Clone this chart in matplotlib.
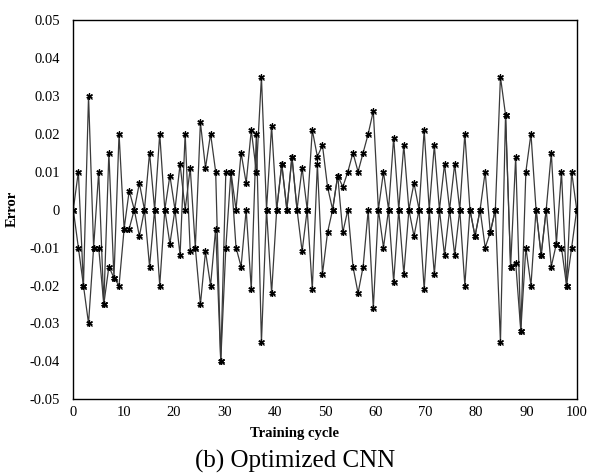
import numpy as np
import matplotlib.pyplot as plt

plt.rcParams['font.family'] = ['Liberation Serif', 'DejaVu Serif']

# error values, two traces per training cycle
err_a = [0, 0.010, -0.020, 0.030, -0.010, 0.010, -0.025, 0.015, -0.018, 0.020,
         -0.005, 0.005, 0, 0.007, 0, 0.015, 0, 0.020, 0, 0.009,
         0, 0.012, 0, 0.011, -0.010, 0.023, 0.011, 0.020, 0.010, -0.040,
         0.010, 0.010, 0, 0.015, 0.007, 0.021, 0.010, 0.035, 0, 0.022,
         0, 0.012, 0, 0.014, 0, 0.011, 0, 0.021, 0.014, 0.017,
         0.006, 0, 0.009, 0.006, 0.010, 0.015, 0.010, 0.015, 0.020, 0.026,
         0, 0.010, 0, 0.019, 0, 0.017, 0, 0.007, 0, 0.021,
         0, 0.017, 0, 0.012, 0, 0.012, 0, 0.020, 0, -0.007,
         0, 0.010, -0.006, 0, 0.035, 0.025, -0.015, 0.014, -0.032, 0.010,
         0.020, 0, -0.012, 0, 0.015, -0.009, 0.010, -0.020, 0.010, 0]
err_b = [0, -0.010, -0.020, -0.030, -0.010, -0.010, -0.025, -0.015, -0.018, -0.020,
         -0.005, -0.005, 0, -0.007, 0, -0.015, 0, -0.020, 0, -0.009,
         0, -0.012, 0.020, -0.011, -0.010, -0.025, -0.011, -0.020, -0.005, -0.040,
         -0.010, 0.010, -0.010, -0.015, 0, -0.021, 0.020, -0.035, 0, -0.022,
         0, 0.012, 0, 0.014, 0, -0.011, 0, -0.021, 0.012, -0.017,
         -0.006, 0, 0.009, -0.006, 0, -0.015, -0.022, -0.015, 0, -0.026,
         0, -0.010, 0, -0.019, 0, -0.017, 0, -0.007, 0, -0.021,
         0, -0.017, 0, -0.012, 0, -0.012, 0, -0.020, 0, -0.007,
         0, -0.010, -0.006, 0, -0.035, 0.025, -0.015, -0.014, -0.032, -0.010,
         -0.020, 0, -0.012, 0, -0.015, -0.009, -0.010, -0.020, -0.010, 0]

xticks = [0, 10, 20, 30, 40, 50, 60, 70, 80, 90, 100]
yticks = [0.05, 0.04, 0.03, 0.02, 0.01, 0, -0.01, -0.02, -0.03, -0.04, -0.05]
ylabels = ['0.05', '0.04', '0.03', '0.02', '0.01', '0',
           '-0.01', '-0.02', '-0.03', '-0.04', '-0.05']

cycle = np.linspace(0, 100, len(err_a))

fig = plt.figure(figsize=(5.9, 4.73), dpi=100)
ax = fig.add_axes([0.1242, 0.1558, 0.8533, 0.8019])

for err in (err_a, err_b):
    ax.plot(cycle, err, color='#3a3a3a', lw=0.9, zorder=2)
    ax.plot(cycle, err, ls='none', marker=(6, 2, 0), ms=4.5, mew=0.9,
            color='black', zorder=3)
    ax.plot(cycle, err, ls='none', marker='x', ms=3.6, mew=0.9,
            color='black', zorder=3)

ax.set_xlim(0, 100)
ax.set_ylim(-0.05, 0.05)
ax.set_xticks(xticks)
ax.set_yticks(yticks)
ax.set_yticklabels(ylabels)
ax.tick_params(axis='both', length=0, labelsize=10.5)
ax.tick_params(axis='y', pad=9.5)
ax.tick_params(axis='x', pad=5)
for s in ax.spines.values():
    s.set_linewidth(1.0)
    s.set_color('black')

fig.text(0.5, 1 - 433 / 473, 'Training cycle', ha='center', va='center',
         fontsize=10.5, fontweight='bold')
fig.text(12 / 590, 1 - 209 / 473, 'Error', ha='center', va='center',
         rotation=90, fontsize=10.5, fontweight='bold')
fig.text(0.5, 1 - 461 / 473, '(b) Optimized CNN', ha='center', va='center',
         fontsize=18)

fig.savefig('out.png', dpi=100)
